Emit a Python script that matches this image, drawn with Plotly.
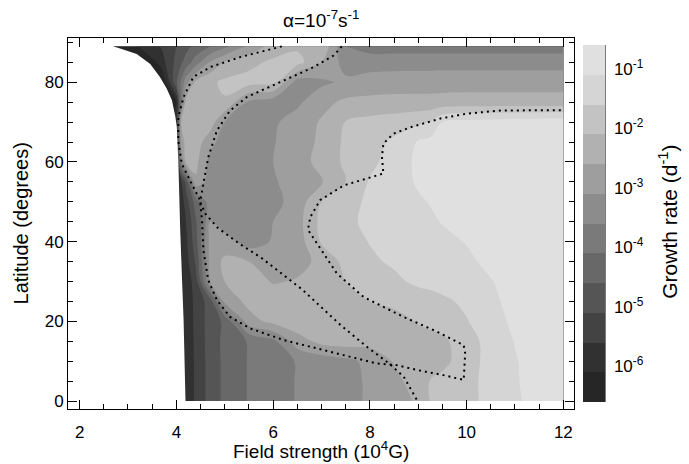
import plotly.graph_objects as go

# ---------------- data ----------------
# grid columns: field strength (10^4 G)
field_strength = [2.7, 3.2, 3.7, 4.0, 4.1, 4.2, 4.4, 4.7, 5.0, 5.5, 6.0, 6.5,
                  7.0, 7.5, 8.0, 8.5, 9.0, 9.25, 9.5, 10.0, 10.5, 11.0, 11.5, 12.0]
# grid rows: latitude (degrees)
latitude = [0, 5, 10, 15, 20, 25, 30, 35, 40, 45, 50, 55, 60, 65, 70, 75, 80, 85, 89]

# log10 growth rate (d^-1), one list per latitude row
rate_lat00 = [-6.6, -6.6, -6.6, -6.4, -6.19, -5.98, -5.51, -4.89, -4.48, -4.06, -3.81, -3.57, -3.4, -3.23, -3.04, -2.82, -2.53, -2.07, -1.96, -1.73, -1.47, -1.17, -0.93, -0.7]
rate_lat05 = [-6.6, -6.6, -6.6, -6.4, -6.19, -5.98, -5.51, -4.89, -4.48, -4.06, -3.81, -3.57, -3.4, -3.23, -3.04, -2.76, -2.34, -2.08, -1.96, -1.73, -1.46, -1.14, -0.92, -0.7]
rate_lat10 = [-6.6, -6.6, -6.6, -6.4, -6.19, -5.98, -5.51, -4.89, -4.48, -4.06, -3.81, -3.57, -3.4, -3.23, -2.97, -2.56, -2.41, -2.33, -2.23, -1.85, -1.4, -1.13, -0.91, -0.7]
rate_lat15 = [-6.6, -6.6, -6.6, -6.4, -6.19, -5.98, -5.49, -4.87, -4.47, -4.05, -3.73, -2.82, -2.45, -2.35, -2.4, -2.4, -2.35, -2.3, -2.2, -1.84, -1.39, -1.08, -0.89, -0.7]
rate_lat20 = [-6.6, -6.6, -6.6, -6.4, -6.19, -5.97, -5.47, -4.87, -4.5, -2.8, -2.45, -2.28, -2.5, -2.55, -2.45, -2.35, -2.05, -1.95, -1.85, -1.63, -1.27, -1.01, -0.86, -0.7]
rate_lat25 = [-6.6, -6.6, -6.6, -6.4, -6.18, -5.96, -5.45, -4.85, -2.95, -2.45, -2.25, -2.45, -2.55, -2.35, -2.1, -1.95, -1.85, -1.8, -1.7, -1.5, -1.2, -0.95, -0.83, -0.7]
rate_lat30 = [-6.6, -6.6, -6.6, -6.45, -6.2, -5.93, -5.35, -3.05, -2.6, -2.3, -2.65, -2.55, -2.35, -2.1, -1.9, -1.7, -1.5, -1.45, -1.4, -1.3, -1.12, -0.95, -0.83, -0.7]
rate_lat35 = [-6.6, -6.6, -6.6, -6.5, -6.15, -5.8, -5.03, -2.9, -2.5, -2.6, -2.85, -2.8, -2.45, -1.95, -1.68, -1.53, -1.43, -1.38, -1.33, -1.18, -1.0, -0.9, -0.8, -0.7]
rate_lat40 = [-6.6, -6.6, -6.6, -6.5, -6.1, -5.7, -4.8, -2.9, -2.85, -3.35, -3.05, -2.85, -2.05, -1.8, -1.58, -1.45, -1.33, -1.28, -1.2, -1.08, -0.95, -0.85, -0.78, -0.7]
rate_lat45 = [-6.6, -6.6, -6.6, -6.5, -6.05, -5.6, -4.68, -3.1, -3.4, -3.35, -3.1, -2.8, -1.95, -1.7, -1.5, -1.35, -1.23, -1.16, -1.08, -0.95, -0.85, -0.8, -0.75, -0.7]
rate_lat50 = [-6.6, -6.6, -6.6, -6.45, -5.9, -5.35, -4.35, -3.3, -3.4, -3.4, -3.25, -2.9, -2.1, -1.8, -1.5, -1.3, -1.15, -1.08, -1.0, -0.9, -0.83, -0.78, -0.74, -0.7]
rate_lat55 = [-6.6, -6.6, -6.6, -6.45, -5.65, -4.9, -2.7, -3.35, -3.4, -3.4, -3.15, -2.9, -2.65, -2.1, -1.55, -1.3, -1.05, -0.98, -0.9, -0.83, -0.78, -0.75, -0.73, -0.7]
rate_lat60 = [-6.6, -6.6, -6.6, -6.35, -3.6, -2.5, -2.45, -3.3, -3.4, -3.35, -3.1, -2.8, -2.45, -2.0, -1.73, -1.38, -1.0, -0.95, -0.88, -0.8, -0.75, -0.73, -0.7, -0.7]
rate_lat65 = [-6.6, -6.6, -6.6, -6.1, -2.85, -2.45, -2.35, -2.9, -3.4, -3.35, -3.13, -2.85, -2.5, -2.0, -1.8, -1.5, -1.05, -0.95, -0.88, -0.8, -0.75, -0.73, -0.7, -0.7]
rate_lat70 = [-6.6, -6.6, -6.6, -5.85, -2.6, -2.4, -2.3, -2.35, -3.1, -3.4, -3.18, -2.88, -2.55, -2.08, -1.95, -1.85, -1.7, -1.58, -1.1, -0.95, -0.9, -0.85, -0.83, -0.8]
rate_lat75 = [-7.6, -7.6, -7.6, -6.1, -3.85, -2.45, -2.3, -2.13, -2.15, -3.2, -3.4, -3.2, -2.75, -2.5, -2.45, -2.43, -2.43, -2.43, -2.43, -2.4, -2.4, -2.4, -2.4, -2.4]
rate_lat80 = [-8.1, -7.6, -6.65, -4.7, -4.0, -3.3, -2.5, -2.2, -2.0, -1.9, -1.95, -3.35, -3.2, -3.0, -2.9, -2.85, -2.83, -2.83, -2.8, -2.8, -2.8, -2.8, -2.8, -2.8]
rate_lat85 = [-8.1, -7.1, -5.8, -4.95, -4.68, -4.4, -3.85, -3.05, -2.55, -2.25, -2.0, -1.9, -2.6, -3.3, -3.3, -3.3, -3.3, -3.3, -3.3, -3.3, -3.3, -3.3, -3.3, -3.3]
rate_lat89 = [-6.55, -6.1, -5.55, -5.1, -4.93, -4.75, -4.48, -4.1, -3.73, -3.0, -2.4, -2.2, -2.15, -3.6, -3.85, -3.85, -3.85, -3.85, -3.85, -3.85, -3.85, -3.85, -3.85, -3.85]

log_growth = [rate_lat00, rate_lat05, rate_lat10, rate_lat15, rate_lat20, rate_lat25,
              rate_lat30, rate_lat35, rate_lat40, rate_lat45, rate_lat50, rate_lat55,
              rate_lat60, rate_lat65, rate_lat70, rate_lat75, rate_lat80, rate_lat85,
              rate_lat89]

# low-field edge of the computed domain (white to the left)
edge_field = [2.69, 2.9, 3.18, 3.46, 3.66, 3.80, 3.91, 3.98, 4.01, 4.04, 4.08, 4.15, 4.19]
edge_lat = [89.0, 88.2, 87.1, 84.6, 81.3, 78.4, 75.4, 71.3, 68.7, 60.4, 42.9, 20.0, 0.0]

# dotted boundaries
ridge_a_field = [6.18, 5.8, 5.32, 4.70, 4.35, 4.15, 4.04, 4.04, 4.11, 4.35, 4.49, 4.53, 4.56, 4.66,
                 4.84, 5.11, 5.53, 6.22, 6.91, 7.59, 8.15, 8.56, 8.97, 9.52, 9.94, 9.97, 9.94,
                 9.39, 8.70, 7.87, 7.32, 6.91, 6.72, 6.77, 6.97, 7.46, 7.94, 8.28, 8.25, 8.28,
                 8.49, 8.84, 9.46, 10.0, 10.69, 11.3, 12.0]
ridge_a_lat = [89.0, 87.8, 86.3, 83.8, 81.3, 76.3, 71.3, 65.4, 59.6, 53.7, 50.4, 45.4, 37.8, 30.3,
               25.3, 21.1, 18.2, 15.3, 13.2, 11.1, 9.4, 9.0, 7.8, 6.5, 5.3, 12.0, 14.0,
               17.4, 21.1, 26.1, 32.0, 39.5, 43.0, 46.2, 50.4, 54.1, 55.8, 57.1, 61.2, 64.6,
               67.1, 68.7, 70.9, 72.1, 72.9, 73.0, 73.0]
ridge_b_field = [7.42, 7.25, 6.84, 6.08, 5.46, 5.11, 4.84, 4.66, 4.56, 4.49, 4.6, 4.85, 5.3,
                 5.75, 6.6, 7.4, 7.95, 8.4, 8.7, 8.97]
ridge_b_lat = [89.0, 86.7, 83.8, 79.6, 76.3, 72.9, 67.9, 61.2, 54.6, 50.0, 47.0, 43.5, 39.5,
               36.0, 28.0, 19.0, 13.5, 9.4, 6.1, 0.3]

# colour bar
level_start, level_end, level_step = -6.6, -0.6, 0.5
band_grays = [38, 55, 72, 89, 106, 123, 139, 156, 173, 190, 207, 224]
cbar_tickvals = [-6, -5, -4, -3, -2, -1]
cbar_ticktext = ["10<sup>-6</sup>", "10<sup>-5</sup>", "10<sup>-4</sup>",
                 "10<sup>-3</sup>", "10<sup>-2</sup>", "10<sup>-1</sup>"]

# ---------------- figure ----------------
nb = len(band_grays)
colorscale = []
for j in range(nb + 2):
    g = band_grays[max(0, min(nb - 1, j - 1))]
    colorscale.append([j / (nb + 1), f"rgb({g},{g},{g})"])

FONT = "Liberation Sans, Arial, Helvetica, sans-serif"
TICK_SIZE = 17

fig = go.Figure()
fig.add_trace(go.Contour(
    x=field_strength, y=latitude, z=log_growth,
    contours=dict(start=level_start, end=level_end, size=level_step,
                  coloring="fill", showlines=False),
    line=dict(width=0, smoothing=1.0),
    colorscale=colorscale, zauto=False, zmin=level_start, zmax=level_end,
    hoverinfo="skip",
    colorbar=dict(
        thickness=22, thicknessmode="pixels",
        len=357, lenmode="pixels",
        x=1.0178, xanchor="left", xpad=0,
        y=0.5, yanchor="middle", ypad=0,
        outlinewidth=0,
        tickmode="array", tickvals=cbar_tickvals, ticktext=cbar_ticktext,
        ticks="outside", ticklen=6, tickcolor="rgba(0,0,0,0)",
        tickfont=dict(family=FONT, size=TICK_SIZE, color="black"),
    ),
))

# white mask left of the computed domain
mask_x = [edge_field[0]] + edge_field + [edge_field[-1], 2.6, 2.6]
mask_y = [89.6] + edge_lat + [-0.6, -0.6, 89.6]
fig.add_trace(go.Scatter(x=mask_x, y=mask_y, mode="lines", fill="toself",
                         fillcolor="white", line=dict(width=0, color="white"),
                         hoverinfo="skip", showlegend=False))

for fx, fy in [(ridge_a_field, ridge_a_lat), (ridge_b_field, ridge_b_lat)]:
    fig.add_trace(go.Scatter(x=fx, y=fy, mode="lines",
                             line=dict(color="black", width=2, dash="2px,4px"),
                             hoverinfo="skip", showlegend=False))

axis_common = dict(
    showline=True, linecolor="black", linewidth=1, mirror="ticks",
    ticks="inside", ticklen=9, tickwidth=1, tickcolor="black",
    showgrid=False, zeroline=False,
    tickfont=dict(family=FONT, size=TICK_SIZE, color="black"),
)
fig.update_xaxes(range=[1.76, 12.22], tick0=0, dtick=2, ticklabelstandoff=8,
                 minor=dict(tick0=0, dtick=0.5, ticks="inside", ticklen=5,
                            tickcolor="black", showgrid=False),
                 **axis_common)
fig.update_yaxes(range=[-2.0, 91.1], tick0=0, dtick=20,
                 minor=dict(tick0=0, dtick=5, ticks="inside", ticklen=5,
                            tickcolor="black", showgrid=False),
                 **axis_common)

fig.update_layout(
    width=689, height=464, autosize=False,
    margin=dict(l=68, r=115, t=38, b=55),
    paper_bgcolor="white", plot_bgcolor="white",
    font=dict(family=FONT, color="black"),
    showlegend=False,
    shapes=[dict(type="line", xref="paper", yref="paper",
                 x0=1.0613, x1=1.0613, y0=0.0189, y1=0.981,
                 line=dict(color="black", width=1))],
    annotations=[
        dict(text="α=10<sup>-7</sup>s<sup>-1</sup>", xref="paper", yref="paper",
             x=0.5, y=1.05, xanchor="center", yanchor="middle", showarrow=False,
             font=dict(family=FONT, size=19, color="black")),
        dict(text="Field strength (10<sup>4</sup>G)", xref="paper", yref="paper",
             x=0.5, y=-0.11, xanchor="center", yanchor="middle", showarrow=False,
             font=dict(family=FONT, size=19, color="black")),
        dict(text="Latitude (degrees)", xref="paper", yref="paper",
             x=-0.093, y=0.5, xanchor="center", yanchor="middle", showarrow=False,
             textangle=-90, font=dict(family=FONT, size=20, color="black")),
        dict(text="Growth rate (d<sup>-1</sup>)", xref="paper", yref="paper",
             x=1.186, y=0.505, xanchor="center", yanchor="middle", showarrow=False,
             textangle=-90, font=dict(family=FONT, size=21, color="black")),
    ],
)

fig.write_html("out.html")
